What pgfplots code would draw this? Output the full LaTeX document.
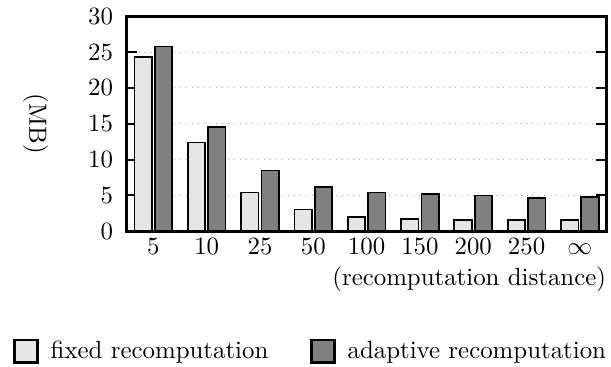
\documentclass[border=0pt]{standalone}
\usepackage{pgfplots}
\pgfplotsset{compat=1.18}
\pgfplotsset{
  legA/.style={legend image code/.code={\path (-5.5pt,0pt) (12.2pt,0pt); \draw[##1, line width=1.1pt] (0pt,-4.6pt) rectangle (9.2pt,4.6pt);}},
  legB/.style={legend image code/.code={\path (-15pt,0pt) (12.2pt,0pt); \draw[##1, line width=1.1pt] (0pt,-4.6pt) rectangle (9.2pt,4.6pt);}},
}
\begin{document}
\begin{tikzpicture}
\begin{axis}[
  width=193pt, height=86.5pt, scale only axis,
  ybar=1.2pt, bar width=7pt,
  xmin=-0.5, xmax=8.5,
  ymin=0, ymax=30,
  ytick={0,5,10,15,20,25,30},
  xtick=data,
  xticklabels={5,10,25,50,100,150,200,250,$\infty$},
  major x tick style={draw=none},
  ymajorgrids,
  grid style={dotted, gray!70},
  axis line style={line width=1.1pt},
  tick style={black, line width=0.8pt},
  ytick pos=both,
  tick align=inside,
  ylabel={(MB)},
  y label style={rotate=180, at={(axis description cs:-0.19,0.5)}, anchor=center},
  xlabel={(recomputation distance)},
  x label style={at={(axis description cs:1,0)}, anchor=north east, yshift=-14pt, inner sep=0pt},
  xticklabel style={text height=1.5ex, text depth=0pt, yshift=0.5pt},
  yticklabel style={xshift=-2pt},
  legend columns=2,
  legend style={draw=none, inner sep=0pt, column sep=0pt, at={(axis description cs:1,-0.558)}, anchor=east, xshift=2pt},
]
\addplot[legA, fill=gray!20, draw=black, line width=0.7pt] coordinates {(0,24.3) (1,12.4) (2,5.4) (3,3.05) (4,1.95) (5,1.7) (6,1.6) (7,1.6) (8,1.6)};
\addplot[legB, fill=black!50, draw=black, line width=0.7pt] coordinates {(0,25.8) (1,14.6) (2,8.5) (3,6.2) (4,5.4) (5,5.2) (6,5.0) (7,4.65) (8,4.8)};
\legend{fixed recomputation, adaptive recomputation}
\end{axis}
\end{tikzpicture}
\end{document}
